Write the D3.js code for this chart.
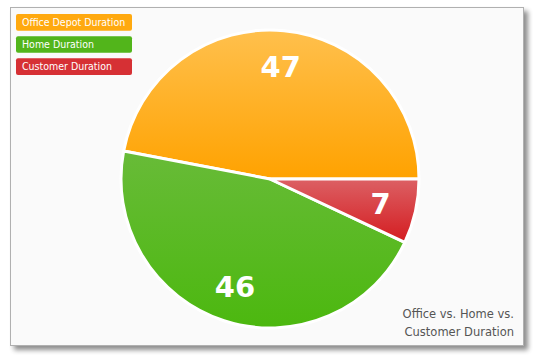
<!DOCTYPE html>
<html><head><meta charset="utf-8">
<script src="https://cdn.jsdelivr.net/npm/d3@7"></script>
<style>html,body{margin:0;padding:0;background:#fff;}svg{display:block;}</style>
</head><body>
<svg id="c" width="539" height="355"></svg>
<script>
const categories = ["Office Depot Duration", "Home Duration", "Customer Duration"];
const values = [47, 46, 7];
const colors = ["#ffa90f", "#52b51b", "#d63034"];
const gradTop = ["#ffc04d", "#68bb38", "#dc6064"];
const gradBot = ["#ffa200", "#4cb80f", "#d41c20"];
const titleLines = ["Office vs. Home vs.", "Customer Duration"];

const svg = d3.select("#c");
const defs = svg.append("defs");
const f = defs.append("filter").attr("id","sh").attr("x","-5%").attr("y","-5%").attr("width","115%").attr("height","115%");
f.append("feGaussianBlur").attr("in","SourceAlpha").attr("stdDeviation",2.5);
f.append("feOffset").attr("dx",4).attr("dy",4).attr("result","b");
f.append("feComponentTransfer").append("feFuncA").attr("type","linear").attr("slope",0.45);
const m = f.append("feMerge"); m.append("feMergeNode"); m.append("feMergeNode").attr("in","SourceGraphic");

svg.append("rect").attr("x",10.5).attr("y",7.5).attr("width",513).attr("height",338)
  .attr("fill","#fafafa").attr("stroke","#b0b0b0").attr("stroke-width",1).attr("filter","url(#sh)");

const cx = 270, cy = 179, r = 149;
categories.forEach((c,i)=>{
  const g = defs.append("linearGradient").attr("id","g"+i)
    .attr("x1",0).attr("y1",0).attr("x2",0).attr("y2",1);
  g.append("stop").attr("offset","0%").attr("stop-color",gradTop[i]);
  g.append("stop").attr("offset","100%").attr("stop-color",gradBot[i]);
});

const pie = d3.pie().sort(null).startAngle(Math.PI/2).endAngle(Math.PI/2 - 2*Math.PI);
const arcs = pie(values);
const arc = d3.arc().innerRadius(0).outerRadius(r);
const labelArc = d3.arc().innerRadius(r*0.76).outerRadius(r*0.76);
const gp = svg.append("g").attr("transform",`translate(${cx},${cy})`);
gp.selectAll("path").data(arcs).enter().append("path")
  .attr("d",arc).attr("fill",(d,i)=>`url(#g${i})`).attr("stroke","#fff").attr("stroke-width",3).attr("stroke-linejoin","round");
gp.selectAll("text").data(arcs).enter().append("text")
  .attr("transform",d=>`translate(${labelArc.centroid(d)})`)
  .attr("text-anchor","middle").attr("dy","0.36em")
  .attr("fill","#fff").attr("font-family","DejaVu Sans, Verdana, sans-serif")
  .attr("font-weight","bold").attr("font-size",29)
  .text(d=>d.data);

const lg = svg.append("g");
const ly = d3.scaleBand().domain(categories).range([14,75]).paddingInner(0.25);
categories.forEach((c,i)=>{
  lg.append("rect").attr("x",16).attr("y",ly(c)).attr("width",116).attr("height",ly.bandwidth())
    .attr("rx",2).attr("fill",colors[i]);
  const t = lg.append("text").attr("x",22).attr("y",ly(c)+ly.bandwidth()/2).attr("dy","0.36em")
    .attr("fill","#fff").attr("font-family","DejaVu Sans, Verdana, sans-serif").attr("font-size",10.5)
    .text(c);
  const w = t.node().getComputedTextLength();
  if (w > 0) t.attr("textLength", w*0.9).attr("lengthAdjust","spacingAndGlyphs");
});

svg.append("g").selectAll("text").data(titleLines).enter().append("text")
  .attr("x",514).attr("y",(d,i)=>318+i*18).attr("text-anchor","end")
  .attr("fill","#555").attr("font-family","DejaVu Sans, Verdana, sans-serif").attr("font-size",11.5)
  .text(d=>d);
</script>
</body></html>
